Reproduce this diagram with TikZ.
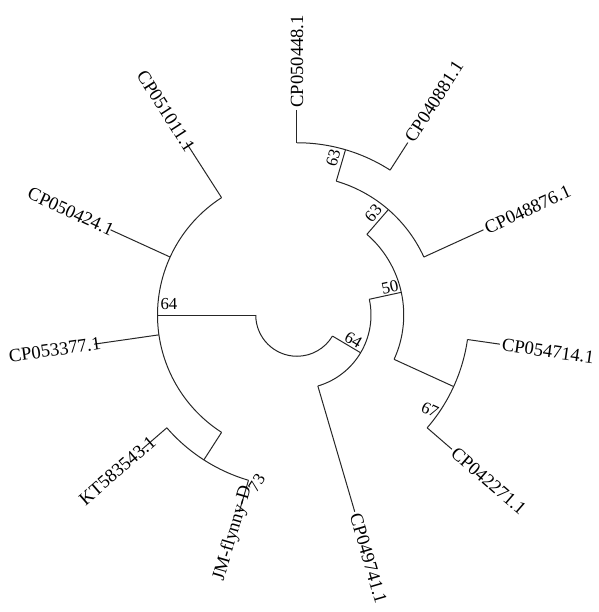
\documentclass[tikz,border=0pt]{standalone}
\usepackage{fontspec}
\setmainfont{Liberation Serif}

\newcommand*{\rleaf}{205}
\newcommand*{\rlab}{207}

\begin{document}
\begin{tikzpicture}
[
	x=0.5pt,
	y=0.5pt,
	branch/.style={black!85,line width=0.5pt},
	leaflabel/.style={font=\fontsize{9.3}{11}\selectfont,inner sep=0pt},
	boot/.style={font=\fontsize{8.4}{10}\selectfont,inner sep=0pt}
]

	\useasboundingbox (-297,-297) rectangle (302,315);

	% internal branches: name/angle/parent radius/radius
	\foreach \n/\a/\ri/\ro in {
		nl/180/41.25/139.5,
		nr/-30.68/41.25/74,
		n50/12.27/74/106.75,
		n63b/49.09/106.75/139.5,
		n63a/73.64/139.5/172.25,
		n67/-24.55/106.75/172.25,
		nkj/-122.73/139.5/172.25%
	} {
		\coordinate (\n-f) at (\a:\ri);
		\coordinate (\n) at (\a:\ro);
		\draw[branch] (\n-f) -- (\n);
	}

	% leaf branches
	\foreach \n/\a/\ri in {
		l1/90/172.25, l2/57.27/172.25, l3/24.55/139.5,
		l4/-8.18/172.25, l5/-40.91/172.25, l6/-73.64/74,
		l7/-106.36/172.25, l8/-139.09/172.25, l9/-171.82/139.5,
		l10/155.45/139.5, l11/122.73/139.5%
	} {
		\coordinate (\n-f) at (\a:\ri);
		\coordinate (\n) at (\a:\rleaf);
		\draw[branch] (\n-f) -- (\n);
	}

	% node arcs: first child/start/end/radius
	\foreach \f/\s/\e/\r in {
		nl-f/180/329.32/41.25,
		l11-f/122.73/237.27/139.5,
		l6-f/-73.64/12.27/74,
		n67-f/-24.55/49.09/106.75,
		l3-f/24.55/73.64/139.5,
		l2-f/57.27/90/172.25,
		l5-f/-40.91/-8.18/172.25,
		l8-f/-139.09/-106.36/172.25%
	} {
		\draw[branch] (\f) arc[start angle=\s,end angle=\e,radius=\r];
	}

	% leaf labels, right half
	\foreach \n/\a/\t in {
		t1/90/CP050448.1, t2/57.27/CP040881.1, t3/24.55/CP048876.1,
		t4/-8.18/CP054714.1, t5/-40.91/CP042271.1, t6/-73.64/CP049741.1%
	} {
		\node[leaflabel,anchor=west,rotate=\a] (\n) at (\a:\rlab) {\t};
	}

	% leaf labels, left half (turned)
	\foreach \n/\a/\r/\t in {
		t7/-106.36/178/JM-flynny-D, t8/-139.09/190/KT583543.1,
		t9/-171.82/198/CP053377.1, t10/155.45/202/CP050424.1,
		t11/122.73/196/CP051011.1%
	} {
		\node[leaflabel,anchor=east,rotate=\a+180] (\n) at (\a:\r) {\t};
	}

	% bootstrap values
	\node[boot] (bl) at (175.1:128.5) {64};
	\node[boot,rotate=12.27] (b50) at (16.8:97.1) {50};
	\node[boot,rotate=49.09] (b63b) at (53.1:127.1) {63};
	\node[boot,rotate=73.64] (b63a) at (77:160.9) {63};
	\node[boot,rotate=-24.55] (b67) at (-35.5:163.4) {67};
	\node[boot,rotate=-30.68] (br) at (-23.9:61.6) {64};
	\node[boot,rotate=57.27] (bkj) at (-103.5:172.8) {73};

\end{tikzpicture}
\end{document}
